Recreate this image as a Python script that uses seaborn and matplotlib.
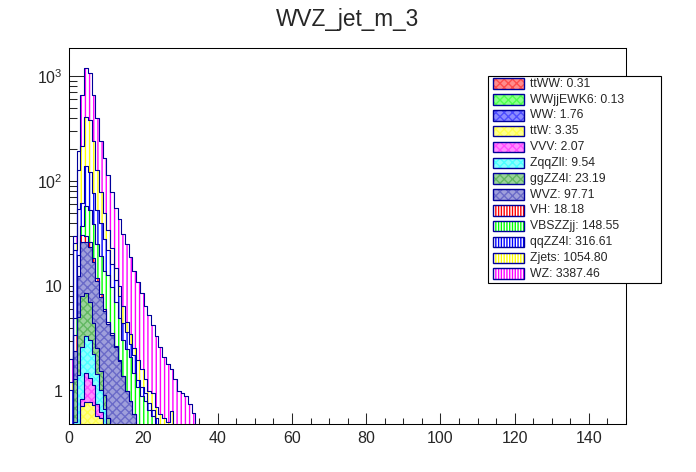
import numpy as np
import pandas as pd
import matplotlib
matplotlib.use("Agg")
import matplotlib.pyplot as plt
from matplotlib.patches import Rectangle
from matplotlib.ticker import FixedLocator, FuncFormatter, LogLocator, MultipleLocator
from matplotlib.colors import to_rgb
import seaborn as sns

# processes, bottom of the stack first (same order as the legend)
names = ["ttWW", "WWjjEWK6", "WW", "ttW", "VVV", "ZqqZll", "ggZZ4l",
         "WVZ", "VH", "VBSZZjj", "qqZZ4l", "Zjets", "WZ"]
yields = [0.31, 0.13, 1.76, 3.35, 2.07, 9.54, 23.19,
          97.71, 18.18, 148.55, 316.61, 1054.80, 3387.46]
colors = ["#ff0000", "#00ff00", "#0000ff", "#ffff00", "#ff00ff", "#00ffff", "#1f9a1f",
          "#2a2ab0", "#ff0000", "#00ff00", "#0000ff", "#ffff00", "#ff00ff"]
fills = ["cross"] * 8 + ["vert"] * 5

# per-bin content, bins of width 1 starting at 0 (rest of the 150 bins empty)
ttWW = [0, 0, 0.01, 0.03, 0.05, 0.06, 0.05, 0.04, 0.03, 0.02, 0.01, 0.01]
WWjjEWK6 = [0, 0, 0.01, 0.02, 0.03, 0.03, 0.02, 0.01, 0.01]
WW = [0, 0.05, 0.15, 0.3, 0.35, 0.3, 0.25, 0.15, 0.1, 0.06, 0.05]
ttW = [0, 0.05, 0.28, 0.37, 0.35, 0.39, 0.42, 0.38, 0.41, 0.32, 0.2, 0.12, 0.06]
VVV = [0, 0, 0.03, 0.12, 0.7, 0.55, 0.4, 0.17, 0.08, 0.02]
ZqqZll = [0.02, 0.4, 0.95, 1.75, 1.85, 1.75, 1.1, 0.7, 0.4, 0.25, 0.17, 0.12, 0.06, 0.02]
ggZZ4l = [0.05, 0.8, 3.6, 5.4, 5.2, 3.9, 2.2, 1.1, 0.5, 0.25, 0.12, 0.07]
WVZ = [0.2, 1.1, 7.5, 18.5, 17.5, 16.5, 12.5, 8.5, 6.3, 4.8, 3.8, 3.1, 2.5, 1.9,
       1.4, 1.0, 0.8, 0.6, 0.35, 0.2]
VH = [0.05, 1.0, 3.0, 4.0, 4.0, 2.5, 1.6, 0.9, 0.5, 0.3, 0.15, 0.1, 0.05, 0.03]
VBSZZjj = [0.1, 1.5, 4, 6.5, 28, 27, 20, 13, 11, 8, 8.2, 6.3, 4.3, 3.05, 1.66, 1.5,
           1.3, 0.88, 0.75, 0.7, 0.8, 0.66, 0.57, 0.3]
qqZZ4l = [0.6, 17, 35, 25, 81, 69, 37.5, 28, 20.7, 14, 9.3, 6.2, 4.5, 3, 1.34, 1.1,
          0.7, 0.72, 0.17, 0.2, 0.15, 0.11, 0.08, 0.25, 0.45]
Zjets = [0.2, 4, 72, 153, 270, 256, 166, 74, 38, 22, 12, 7, 3.5, 2, 2.1, 0.9, 0.7,
         0.36, 0.7, 0.5, 0.35, 0.23, 0.3, 0.15, 0.15, 0.55, 0.5, 0.64, 0.3]
WZ = [0.8, 4, 68, 445, 771, 697, 418, 269, 164, 114, 80, 55, 40, 33, 24.5, 20.5,
      15.5, 11.4, 9.0, 6.9, 5.2, 4.3, 3.25, 2.6, 2.0, 1.55, 1.3, 0.96, 1.0, 1.0,
      0.95, 0.9, 0.75, 0.62]
contents = [ttWW, WWjjEWK6, WW, ttW, VVV, ZqqZll, ggZZ4l, WVZ, VH, VBSZZjj, qqZZ4l, Zjets, WZ]

NBINS = 150
centers = np.arange(NBINS) + 0.5
NAVY = "#000099"

sns.set_style("white")
plt.rcParams["font.family"] = ["Liberation Sans", "DejaVu Sans"]
plt.rcParams["mathtext.default"] = "regular"
plt.rcParams["hatch.linewidth"] = 1.0


def tint(c, a=0.5):
    r, g, b = to_rgb(c)
    return (1 - a + a * r, 1 - a + a * g, 1 - a + a * b)


def fill_style(i):
    # checker pattern of ROOT approximated by a tint with a faint mesh
    if fills[i] == "cross":
        return dict(facecolor=tint(colors[i], 0.45), edgecolor=tint(colors[i], 0.7),
                    hatch="xxxx")
    return dict(facecolor="white", edgecolor=colors[i], hatch="||||")


W, H = 696, 472
fig = plt.figure(figsize=(W / 100, H / 100), dpi=100)
ax = fig.add_axes([69.3 / W, 1 - 424.3 / H, (626 - 69.3) / W, (424.3 - 48) / H])

# THStack style: draw cumulative sums from the top layer down
padded = np.zeros((len(contents), NBINS))
for i, c in enumerate(contents):
    padded[i, :len(c)] = c
stacked = np.cumsum(padded, axis=0)

for i in range(len(names) - 1, -1, -1):
    df = pd.DataFrame({"x": centers, "w": stacked[i]})
    sns.histplot(data=df, x="x", weights="w", binwidth=1, binrange=(0, NBINS),
                 element="step", fill=True, linewidth=0, ax=ax, **fill_style(i))
    sns.histplot(data=df, x="x", weights="w", binwidth=1, binrange=(0, NBINS),
                 element="step", fill=False, color=NAVY, linewidth=0.8, ax=ax)

ax.set_yscale("log")
ax.set_xlim(0, 150)
ax.set_ylim(0.48, 1850)
ax.set_xlabel("")
ax.set_ylabel("")

ax.xaxis.set_major_locator(MultipleLocator(20))
ax.xaxis.set_minor_locator(MultipleLocator(5))
ax.yaxis.set_major_locator(FixedLocator([1, 10, 100, 1000]))
ax.yaxis.set_minor_locator(LogLocator(base=10, subs=range(2, 10)))
ax.yaxis.set_major_formatter(FuncFormatter(
    lambda v, p: {1: "1", 10: "10", 100: r"$10^{2}$", 1000: r"$10^{3}$"}.get(int(round(v)), "")))
ax.yaxis.set_minor_formatter(FuncFormatter(lambda v, p: ""))

ax.tick_params(axis="x", which="major", direction="in", length=8.1, width=0.75,
               labelsize=11.5, pad=5, bottom=True, top=False)
ax.tick_params(axis="x", which="minor", direction="in", length=4.0, width=0.75,
               bottom=True, top=False)
ax.tick_params(axis="y", which="major", direction="in", length=12, width=0.75,
               labelsize=11.5, pad=5, left=True, right=False)
ax.tick_params(axis="y", which="minor", direction="in", length=6, width=0.75,
               left=True, right=False)
for s in ax.spines.values():
    s.set_color("black")
    s.set_linewidth(0.75)

fig.text(0.5, 1 - 26 / H, "WVZ_jet_m_3", ha="center", va="baseline", fontsize=16.3)

# legend box (pixel coordinates, y downwards)
lx0, lx1, ly0, ly1 = 487.3, 661.7, 75.7, 283.3
lax = fig.add_axes([lx0 / W, 1 - ly1 / H, (lx1 - lx0) / W, (ly1 - ly0) / H])
lax.set_xlim(lx0, lx1)
lax.set_ylim(ly1, ly0)
lax.axis("off")
lax.add_patch(Rectangle((lx0 + 0.5, ly0 + 0.5), lx1 - lx0 - 1, ly1 - ly0 - 1,
                        facecolor="white", edgecolor="black", linewidth=0.8,
                        clip_on=False))
for i, (name, y) in enumerate(zip(names, yields)):
    yc = 83.7 + i * 15.83
    st = fill_style(i)
    if fills[i] == "vert":
        st["hatch"] = "||||||"
    lax.add_patch(Rectangle((492.7, yc - 5.3), 31.6, 10.6, linewidth=0, **st))
    lax.add_patch(Rectangle((492.7, yc - 5.3), 31.6, 10.6, fill=False,
                            edgecolor=NAVY, linewidth=1.0))
    lax.text(530, yc, f"{name}: {y:.2f}", ha="left", va="center", fontsize=8.8)

fig.savefig("out.png", dpi=100, facecolor="white")
